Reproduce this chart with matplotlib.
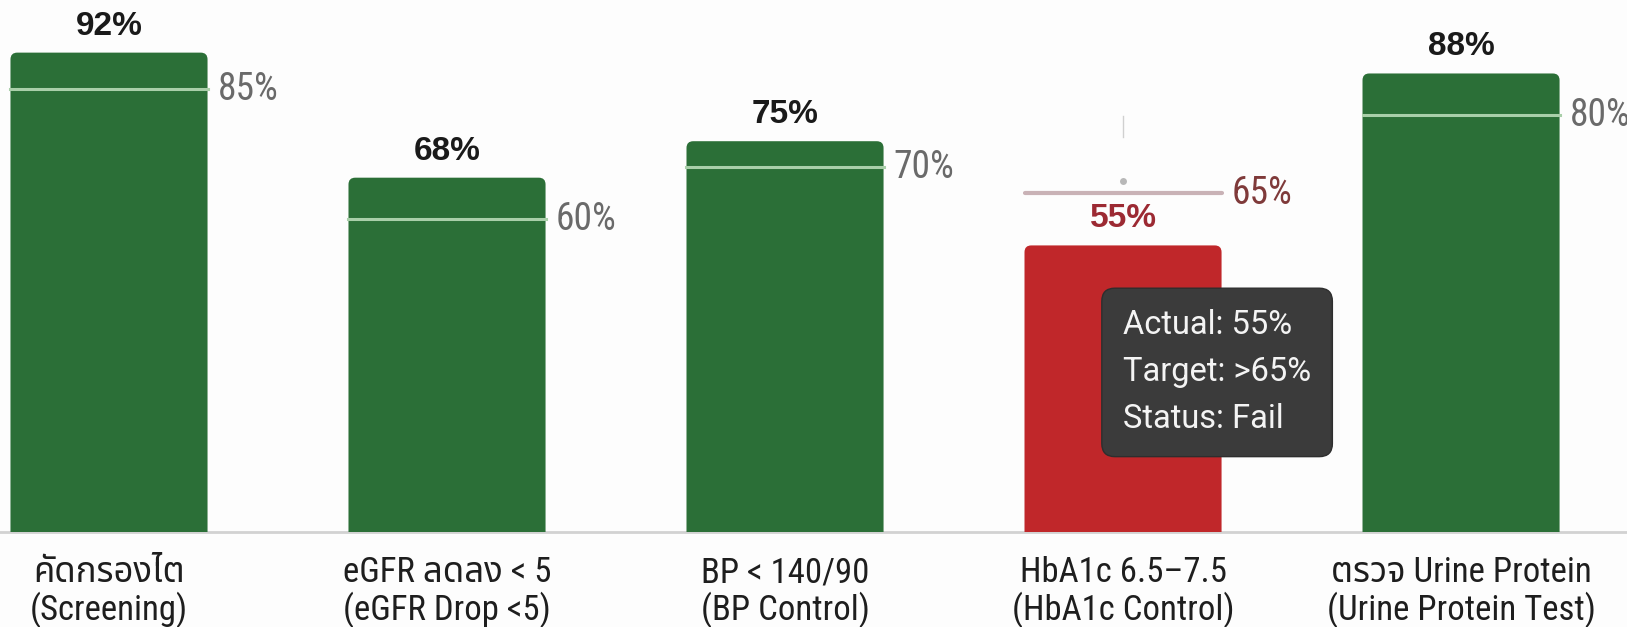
import matplotlib
matplotlib.use("Agg")
import matplotlib.pyplot as plt
import matplotlib.transforms as mtransforms
from matplotlib.patches import FancyBboxPatch

# ── data ─────────────────────────────────────────────────────────────────────
cat_thai = ["คัดกรองไต", "eGFR ลดลง < 5", "BP < 140/90", "HbA1c 6.5–7.5", "ตรวจ Urine Protein"]
cat_eng = ["(Screening)", "(eGFR Drop <5)", "(BP Control)", "(HbA1c Control)", "(Urine Protein Test)"]
actual = [92, 68, 75, 55, 88]
target = [85, 60, 70, 65, 80]
tooltip_lines = ["Actual: 55%", "Target: >65%", "Status: Fail"]
hover_idx = 3

GREEN = "#2b6f37"
RED = "#c0272a"
COND = ["Roboto Condensed", "Noto Sans Thai", "DejaVu Sans"]
BOLD = ["Liberation Sans", "DejaVu Sans"]

W, H, DPI = 16.27, 6.27, 100
PT = 72 / DPI      # points per pixel

fig = plt.figure(figsize=(W, H), dpi=DPI, facecolor="#fdfdfd")
ax = fig.add_axes([0, 95 / 627, 1, 532 / 627])
ax.set_facecolor("#fdfdfd")
ax.set_xlim(-0.3225, 4.491)
ax.set_ylim(0, 102.1)
for s in ax.spines.values():
    s.set_visible(False)
ax.set_xticks([])
ax.set_yticks([])
ax.axhline(0, color="#d2d2d2", lw=2, clip_on=False, zorder=1)

bar_w = 0.583
xs = list(range(len(actual)))
failed = [a < t for a, t in zip(actual, target)]
colors = [RED if f else GREEN for f in failed]
bars = ax.bar(xs, actual, width=bar_w, color=colors)

# swap rectangles for rounded-top boxes (bottom corners hidden below the axis)
aspect = (1627 / (4.491 + 0.3225)) / (532 / 102.1)
for rect, c in zip(bars.patches, colors):
    x0, w, h = rect.get_x(), rect.get_width(), rect.get_height()
    rect.set_visible(False)
    ax.add_patch(FancyBboxPatch((x0, -3), w, h + 3,
                                boxstyle="round,pad=0,rounding_size=0.02",
                                mutation_aspect=aspect, fc=c, ec="none", zorder=2))

for i, (a, t, f) in enumerate(zip(actual, target, failed)):
    x0, x1 = i - bar_w / 2, i + bar_w / 2
    if f:
        ax.plot([x0, x1], [t, t], color="#c9b2b6", lw=3, solid_capstyle="round", zorder=3)
        lab_col, val_col = "#7f3a3a", "#9c2a33"
    else:
        ax.plot([x0, x1], [t, t], color="#a9cfa9", lw=2.2, zorder=3)
        lab_col, val_col = "#6a6a6a", "#1a1a1a"
    ax.annotate(f"{t}%", (x1, t), xytext=(10 * PT, 0), textcoords="offset points",
                ha="left", va="center", fontsize=27, color=lab_col, family=COND)
    ax.annotate(f"{a}%", (i, a), xytext=(0, 11 * PT), textcoords="offset points",
                ha="center", va="bottom", fontsize=24, fontweight="bold",
                color=val_col, family=BOLD)
    ax.annotate(cat_thai[i], (i, 0), xycoords=("data", "axes fraction"),
                xytext=(0, -41 * PT), textcoords="offset points", ha="center",
                va="center", fontsize=25, color="#1e1e1e", family=COND,
                annotation_clip=False)
    ax.annotate(cat_eng[i], (i, 0), xycoords=("data", "axes fraction"),
                xytext=(0, -78 * PT), textcoords="offset points", ha="center",
                va="center", fontsize=25, color="#1e1e1e", family=COND,
                annotation_clip=False)

# hover cursor above the failing bar
t_h = target[hover_idx]
tr = mtransforms.offset_copy(ax.transData, fig=fig, x=0, y=12 * PT, units="points")
ax.plot([hover_idx], [t_h], marker="o", ms=5, color="#b8b8b8", mec="none",
        transform=tr, zorder=3)
tr2 = mtransforms.offset_copy(ax.transData, fig=fig, x=0, y=56 * PT, units="points")
ax.plot([hover_idx, hover_idx], [t_h, t_h + 4], color="#d0d0d0", lw=1,
        transform=tr2, zorder=3)

# tooltip
ax.annotate("\n".join(tooltip_lines), (hover_idx, actual[hover_idx]),
            xytext=(0, -64 * PT), textcoords="offset points", ha="left", va="top",
            fontsize=23.5, color="#f4f4f4", family=["Roboto", "DejaVu Sans"],
            linespacing=1.6, zorder=6,
            bbox=dict(boxstyle="round,pad=0.65,rounding_size=0.4", fc="#3b3b3b",
                      ec="#2e2e2e", lw=1))

fig.savefig("out.png", dpi=DPI, facecolor=fig.get_facecolor())
